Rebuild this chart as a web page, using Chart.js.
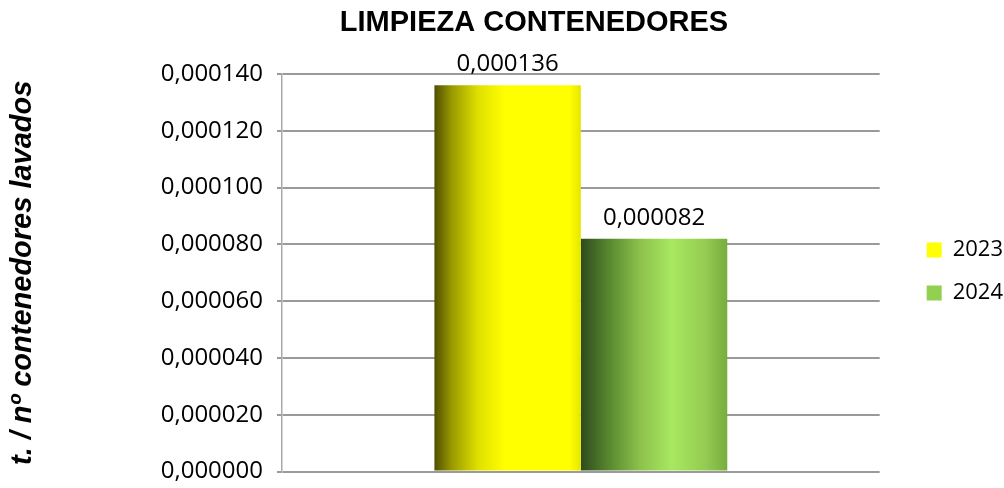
<!DOCTYPE html>
<html><head><meta charset="utf-8">
<script src="https://cdn.jsdelivr.net/npm/chart.js@4/dist/chart.umd.min.js"></script>
<style>html,body{margin:0;padding:0;background:#fff}#wrap{width:1004px;height:488px}</style>
</head><body><div id="wrap"><canvas id="c" width="1004" height="488"></canvas></div>
<script>
const categories = [''];
const seriesNames = ['2023', '2024'];
const values2023 = [0.000136];
const values2024 = [0.000082];
const tickValues = [0, 0.00002, 0.00004, 0.00006, 0.00008, 0.0001, 0.00012, 0.00014];
const chartTitle = 'LIMPIEZA CONTENEDORES';
const axisTitle = 't. / nº contenedores lavados';
const legendColors = ['#ffff00', '#92d050'];
const gradientStops = [
  [[0, '#4f4f00'], [0.12, '#9a9a00'], [0.3, '#e0e000'], [0.48, '#ffff00'], [0.92, '#ffff00'], [1, '#e6e600']],
  [[0, '#2e4a1c'], [0.2, '#5a8a30'], [0.4, '#8cc04c'], [0.62, '#a8e860'], [0.85, '#94cc52'], [1, '#78ac3c']]
];
const CAT_PCT = 0.49;
const fmt = v => v.toFixed(6).replace('.', ',');

function barGradient(ctx) {
  const chart = ctx.chart;
  const area = chart.chartArea;
  const xs = chart.scales.x;
  if (!area || !xs) return legendColors[ctx.datasetIndex];
  const idx = ctx.dataIndex || 0;
  const c = xs.getPixelForValue(idx);
  const catW = (area.right - area.left) / categories.length;
  const W = catW * CAT_PCT;
  const n = chart.data.datasets.length;
  const left = c - W / 2 + ctx.datasetIndex * W / n;
  const g = chart.ctx.createLinearGradient(left, 0, left + W / n, 0);
  gradientStops[ctx.datasetIndex].forEach(s => g.addColorStop(s[0], s[1]));
  return g;
}

const valueLabels = {
  id: 'valueLabels',
  afterDatasetsDraw(chart) {
    const ctx = chart.ctx;
    ctx.save();
    ctx.font = '24px "Open Sans"';
    ctx.fillStyle = '#000';
    ctx.textAlign = 'center';
    ctx.textBaseline = 'bottom';
    chart.data.datasets.forEach((ds, i) => {
      chart.getDatasetMeta(i).data.forEach((bar, j) => {
        ctx.fillText(fmt(ds.data[j]), bar.x, bar.y - 9);
      });
    });
    ctx.restore();
  }
};

const titlePlugin = {
  id: 'titlePlugin',
  afterDraw(chart) {
    const ctx = chart.ctx;
    ctx.save();
    ctx.font = 'bold 29px "Liberation Sans", Arial';
    ctx.fillStyle = '#000';
    ctx.textAlign = 'center';
    ctx.textBaseline = 'middle';
    ctx.fillText(chartTitle, 534, 23);
    ctx.restore();
  }
};

new Chart(document.getElementById('c'), {
  type: 'bar',
  data: {
    labels: categories,
    datasets: [
      { label: seriesNames[0], data: values2023, backgroundColor: barGradient, borderWidth: 0 },
      { label: seriesNames[1], data: values2024, backgroundColor: barGradient, borderWidth: 0 }
    ]
  },
  options: {
    responsive: false,
    animation: false,
    devicePixelRatio: 1,
    layout: { padding: { left: 0, right: -9, top: 74, bottom: 0 } },
    datasets: { bar: { categoryPercentage: CAT_PCT, barPercentage: 1 } },
    plugins: {
      title: { display: false },
      legend: {
        position: 'right',
        align: 'start',
        title: { display: true, text: ' ', font: { size: 10, lineHeight: 1.2 }, padding: { top: 0, bottom: 132 } },
        labels: {
          boxWidth: 15, boxHeight: 15, padding: 21,
          color: '#000',
          font: { family: '"Open Sans"', size: 22 },
          generateLabels: chart => chart.data.datasets.map((ds, i) => ({
            text: ds.label, fillStyle: legendColors[i], strokeStyle: legendColors[i],
            fontColor: '#000', lineWidth: 0, hidden: false, datasetIndex: i
          }))
        }
      },
      tooltip: { enabled: false }
    },
    scales: {
      x: {
        display: true,
        grid: { display: false },
        border: { display: false },
        ticks: { display: false },
        afterFit: s => { s.height = 15; }
      },
      y: {
        min: 0, max: 0.00014,
        afterBuildTicks: s => { s.ticks = tickValues.map(v => ({ value: v })); },
        afterFit: s => { s.width = 282; },
        ticks: { color: '#000', font: { family: '"Open Sans"', size: 24, lineHeight: 0.2 }, padding: 14, callback: v => fmt(v) },
        grid: { color: '#9a9a9a', lineWidth: 2, tickLength: 5, drawTicks: true },
        border: { display: true, color: '#aaaaaa', width: 1.5 },
        title: {
          display: true,
          text: axisTitle,
          color: '#000',
          font: { family: '"Liberation Sans", Arial', size: 29, weight: 'bold', style: 'italic' },
          padding: { top: 6, bottom: 4 }
        }
      },
      yDummy: {
        position: 'right',
        display: true,
        grid: { display: false },
        border: { display: false },
        ticks: { display: false },
        afterFit: s => { s.width = 26; }
      }
    }
  },
  plugins: [valueLabels, titlePlugin]
});
</script></body></html>
